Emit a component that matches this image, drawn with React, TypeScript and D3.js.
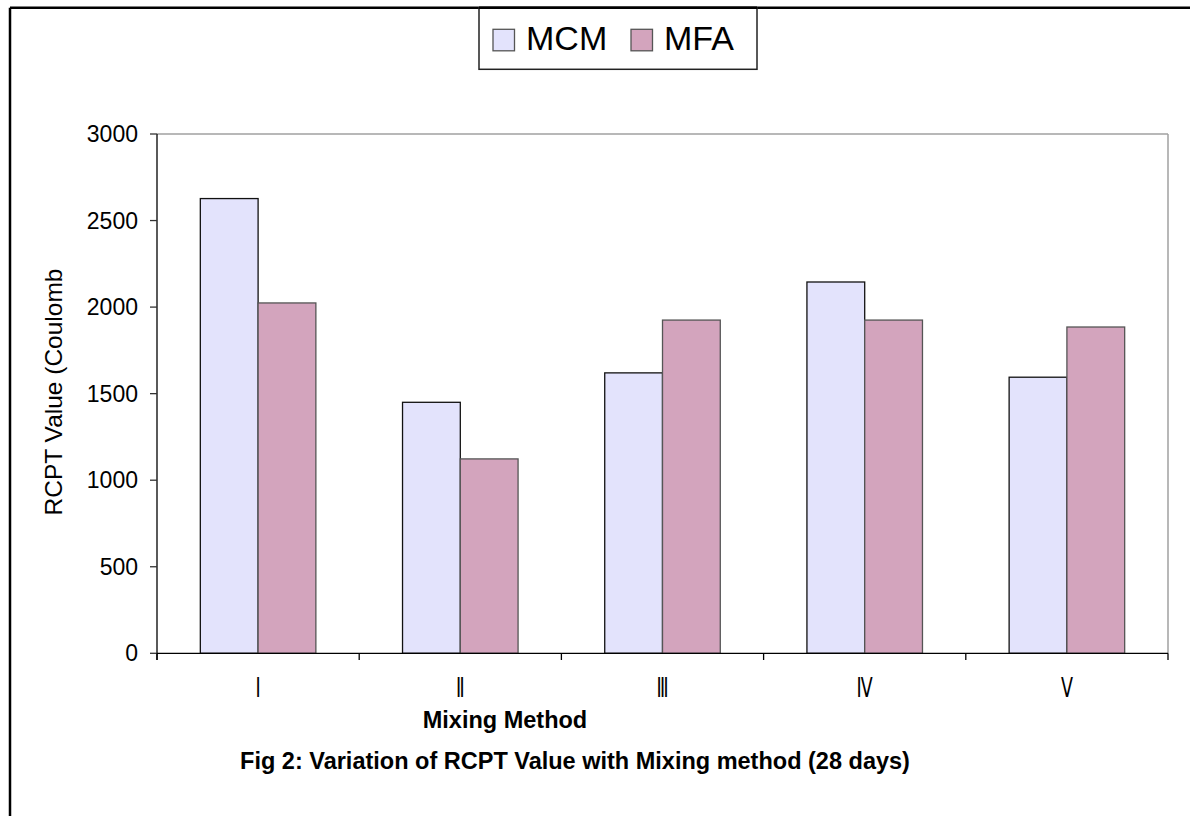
import React from "react";
import * as d3 from "d3";

// Mixing methods on the x axis
const categories = ["Ⅰ", "Ⅱ", "Ⅲ", "Ⅳ", "Ⅴ"];
// Series names and their values (RCPT, Coulomb)
const seriesNames = ["MCM", "MFA"];
const mcmValues = [2627, 1450, 1620, 2145, 1595];
const mfaValues = [2024, 1123, 1925, 1925, 1885];
const yTickValues = [0, 500, 1000, 1500, 2000, 2500, 3000];

const seriesFill: Record<string, string> = { MCM: "#E3E3FC", MFA: "#D3A4BD" };
const seriesStroke: Record<string, string> = { MCM: "#111111", MFA: "#555555" };

const W = 1190;
const H = 816;
const plot = { left: 157, right: 1168, top: 134, bottom: 653.3 };
const font = "Arial, 'Liberation Sans', Helvetica, sans-serif";

export default function App() {
  const x = d3
    .scaleBand<string>()
    .domain(categories)
    .range([plot.left, plot.right])
    .paddingInner(1.5 / 3.5)
    .paddingOuter(0.75 / 3.5);
  const xs = d3.scaleBand<string>().domain(seriesNames).range([0, x.bandwidth()]).padding(0);
  const y = d3.scaleLinear().domain([0, 3000]).range([plot.bottom, plot.top]);

  const rows = categories.map((c, i) => ({ c, MCM: mcmValues[i], MFA: mfaValues[i] }));
  const step = x.step();
  const boundaries = d3.range(categories.length + 1).map((i) => plot.left + i * step);

  return (
    <svg
      width={W}
      height={H}
      style={{ position: "absolute", left: 0, top: 0, background: "#fff" }}
      fontFamily={font}
    >
      <rect x={0} y={0} width={W} height={H} fill="#fff" />
      {/* outer frame (top and left edges) */}
      <line x1={10} y1={7.8} x2={W} y2={7.8} stroke="#000" strokeWidth={2.5} />
      <line x1={10} y1={7.8} x2={10} y2={H} stroke="#000" strokeWidth={2.5} />

      {/* plot area border */}
      <line x1={plot.left} y1={plot.top} x2={plot.right} y2={plot.top} stroke="#a0a0a0" strokeWidth={1.5} />
      <line x1={plot.right} y1={plot.top} x2={plot.right} y2={plot.bottom} stroke="#a0a0a0" strokeWidth={1.5} />

      {/* bars */}
      {rows.map((r) =>
        seriesNames.map((s) => {
          const v = (r as any)[s] as number;
          const bx = (x(r.c) as number) + (xs(s) as number);
          return (
            <rect
              key={r.c + s}
              x={bx}
              y={y(v)}
              width={xs.bandwidth()}
              height={plot.bottom - y(v)}
              fill={seriesFill[s]}
              stroke={seriesStroke[s]}
              strokeWidth={1.3}
            />
          );
        })
      )}

      {/* y axis */}
      <line x1={plot.left} y1={plot.top} x2={plot.left} y2={plot.bottom + 6.7} stroke="#000" strokeWidth={1.3} />
      {yTickValues.map((t) => (
        <g key={t}>
          <line x1={plot.left - 7} x2={plot.left} y1={y(t)} y2={y(t)} stroke="#333" strokeWidth={1.3} />
          <text
            x={138}
            y={y(t)}
            textAnchor="end"
            dominantBaseline="central"
            fontSize={23}
            fill="#000"
          >
            {t}
          </text>
        </g>
      ))}

      {/* x axis */}
      <line x1={plot.left} y1={plot.bottom} x2={plot.right} y2={plot.bottom} stroke="#000" strokeWidth={1.3} />
      {boundaries.map((b, i) => (
        <line key={i} x1={b} x2={b} y1={plot.bottom} y2={plot.bottom + 6.7} stroke="#000" strokeWidth={1.3} />
      ))}
      {categories.map((c) => {
        const cx = (x(c) as number) + x.bandwidth() / 2;
        return (
          <g key={c} transform={`translate(${cx},697) scale(0.65,1)`}>
            <text x={0} y={0} textAnchor="middle" fontSize={27} fontFamily="'DejaVu Sans', sans-serif" fill="#000">
              {c}
            </text>
          </g>
        );
      })}

      {/* axis titles */}
      <text x={505} y={728} textAnchor="middle" fontSize={23.5} fontWeight="bold" fill="#000">
        Mixing Method
      </text>
      <text
        transform="translate(53,392) rotate(-90)"
        textAnchor="middle"
        dominantBaseline="central"
        fontSize={24.5}
        fill="#000"
      >
        RCPT Value (Coulomb
      </text>
      <text x={575} y={769} textAnchor="middle" fontSize={23.5} fontWeight="bold" fill="#000">
        Fig 2: Variation of RCPT Value with Mixing method (28 days)
      </text>

      {/* legend */}
      <rect x={479} y={7.8} width={278} height={61.5} fill="#fff" stroke="#222" strokeWidth={1.5} />
      <line x1={479} y1={7.8} x2={757} y2={7.8} stroke="#000" strokeWidth={2.5} />
      {seriesNames.map((s, i) => {
        const lx = i === 0 ? 493 : 631;
        return (
          <g key={s}>
            <rect x={lx} y={29.3} width={21.5} height={21.5} fill={seriesFill[s]} stroke="#555" strokeWidth={1.3} />
            <text x={lx + 33} y={50} fontSize={34} fill="#000">
              {s}
            </text>
          </g>
        );
      })}
    </svg>
  );
}
